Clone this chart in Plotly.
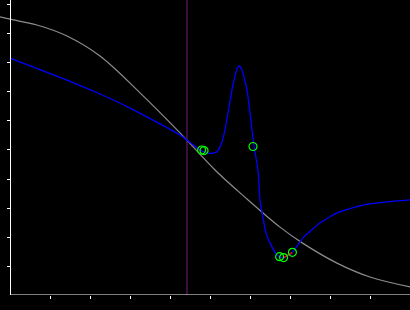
import plotly.graph_objects as go

# Gray reference curve
gray_x = [-0.25, 0.0, 0.675, 1.425, 2.25, 3.25, 4.25, 5.125, 5.925, 6.75, 7.325, 8.175, 9.0, 10.0]
gray_y = [9.59, 9.51, 9.31, 8.93, 8.24, 6.97, 5.59, 4.31, 3.31, 2.34, 1.78, 1.10, 0.62, 0.28]

# Blue model curve
blue_x = [0.0, 1.425, 2.25, 2.95, 4.25, 4.75, 5.0, 5.175, 5.29, 5.375, 5.55, 5.65, 5.725, 5.8, 5.925,
          6.05, 6.1, 6.2, 6.25, 6.4, 6.5, 6.675, 6.75, 6.85, 7.05, 7.325, 7.75, 8.175, 8.825, 9.425, 10.0]
blue_y = [8.17, 7.41, 6.93, 6.48, 5.52, 5.0, 4.88, 4.94, 5.24, 5.69, 7.07, 7.69, 7.9, 7.76, 7.07,
          5.69, 5.14, 4.31, 3.28, 2.14, 1.79, 1.38, 1.31, 1.28, 1.45, 1.97, 2.48, 2.83, 3.10, 3.21, 3.28]

# Sampled points
pts_x = [4.79, 4.85, 6.075, 6.74, 6.84, 7.06]
pts_y = [5.0, 4.98, 5.12, 1.32, 1.29, 1.47]

# Red segment
red_x = [6.84, 7.06]
red_y = [1.29, 1.47]

# Vertical marker
vline_x = 4.425

x_ticks = [1, 2, 3, 4, 5, 6, 7, 8, 9]
y_ticks = [1, 2, 3, 4, 5, 6, 7, 8, 9, 10]

fig = go.Figure()
fig.add_trace(go.Scatter(x=gray_x, y=gray_y, mode="lines",
                         line=dict(color="#8c8c8c", width=1.2, shape="spline", smoothing=1.0)))
fig.add_trace(go.Scatter(x=blue_x, y=blue_y, mode="lines",
                         line=dict(color="#0000ff", width=1.3, shape="spline", smoothing=0.5)))
fig.add_trace(go.Scatter(x=red_x, y=red_y, mode="lines",
                         line=dict(color="#ff0000", width=1.5)))
fig.add_trace(go.Scatter(x=pts_x, y=pts_y, mode="markers",
                         marker=dict(symbol="circle-open", size=8, color="#00ff00",
                                     line=dict(color="#00ff00", width=1.2)),
                         cliponaxis=False))

fig.add_shape(type="line", xref="x", yref="y", x0=vline_x, x1=vline_x, y0=0, y1=10.172,
              line=dict(color="#7a1a80", width=1), layer="below")
fig.add_shape(type="line", xref="x", yref="y", x0=0, x1=10, y0=0, y1=0,
              line=dict(color="#ffffff", width=1))

fig.update_layout(
    width=410, height=310,
    margin=dict(l=0, r=0, t=0, b=0),
    paper_bgcolor="#000000", plot_bgcolor="#000000",
    showlegend=False,
    xaxis=dict(domain=[0, 1], range=[-0.25, 10], showgrid=False, zeroline=False,
               showline=False, ticks="outside", ticklen=3, tickwidth=1, tickcolor="#ffffff",
               tickvals=x_ticks, showticklabels=False),
    yaxis=dict(domain=[15 / 310, 1], range=[0, 10.172], showgrid=False, zeroline=False,
               anchor="free", position=10 / 410,
               showline=True, linecolor="#ffffff", linewidth=1,
               ticks="outside", ticklen=3, tickwidth=1, tickcolor="#ffffff",
               tickvals=y_ticks, showticklabels=False),
)

fig.write_html("out.html")
